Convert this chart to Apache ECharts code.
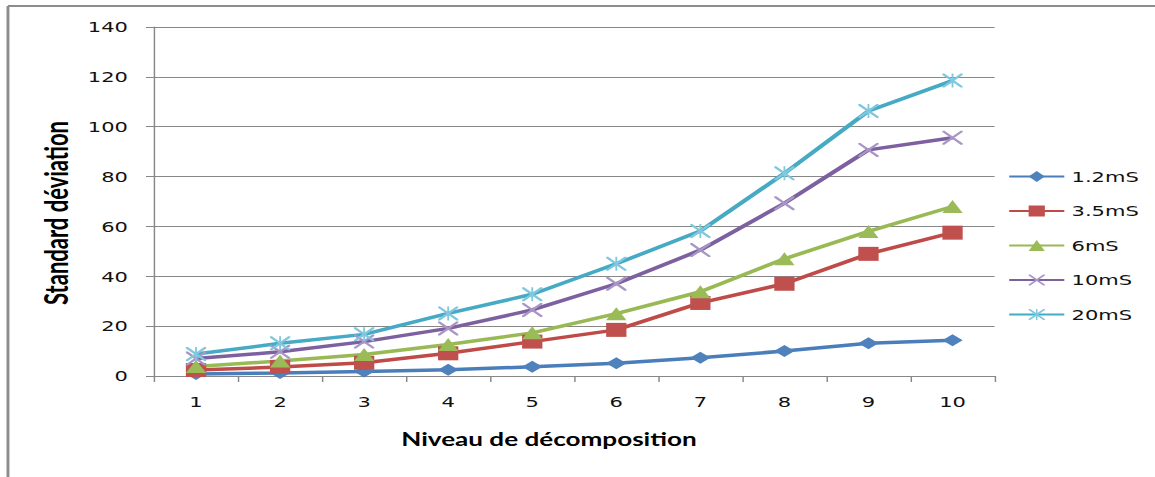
<!DOCTYPE html>
<html>
<head>
<meta charset="utf-8">
<script src="https://cdn.jsdelivr.net/npm/echarts@6/dist/echarts.min.js"></script>
<style>
html,body{margin:0;padding:0;background:#fff;overflow:hidden;}
#c{width:796.55px;height:477px;transform:scaleX(1.45);transform-origin:0 0;}
</style>
</head>
<body>
<div id="c"></div>
<script>
const categories = ['1','2','3','4','5','6','7','8','9','10'];
const seriesNames = ['1.2mS','3.5mS','6mS','10mS','20mS'];
const s12 = [0.8, 1.2, 1.8, 2.5, 3.7, 5.1, 7.3, 10.0, 13.1, 14.3];
const s35 = [2.4, 3.6, 5.3, 9.1, 13.8, 18.5, 29.3, 37.0, 49.0, 57.5];
const s6  = [3.8, 6.0, 8.6, 12.6, 17.3, 25.0, 33.8, 47.0, 58.0, 68.0];
const s10 = [7.0, 9.7, 13.8, 19.1, 26.5, 37.0, 50.5, 69.3, 90.7, 95.6];
const s20 = [8.8, 13.1, 16.7, 25.1, 32.8, 45.0, 58.2, 81.3, 106.3, 118.5];
const yTicks = { min: 0, max: 140, interval: 20 };
const xTitle = 'Niveau de décomposition';
const yTitle = 'Standard déviation';

const X_PATH = 'path://M0,0 L2,0 L20,18 L20,20 L18,20 L0,2 Z M18,0 L20,0 L20,2 L2,20 L0,20 L0,18 Z';
const STAR_PATH = 'path://M0,0 L2,0 L20,18 L20,20 L18,20 L0,2 Z M18,0 L20,0 L20,2 L2,20 L0,20 L0,18 Z M9.1,0 L10.9,0 L10.9,20 L9.1,20 Z';

const chart = echarts.init(document.getElementById('c'), null, { renderer: 'svg' });

function mk(name, data, lineColor, markColor, symbol, size) {
  return {
    name: name, type: 'line', data: data,
    symbol: symbol, symbolSize: size,
    showAllSymbol: true,
    lineStyle: { color: lineColor, width: 3.5 },
    itemStyle: { color: markColor, borderWidth: 0 },
    emphasis: { disabled: true },
    z: 3
  };
}

chart.setOption({
  animation: false,
  backgroundColor: '#ffffff',
  grid: { left: 106.2, right: 111.1, top: 27, bottom: 101, containLabel: false },
  xAxis: {
    type: 'category', data: categories, boundaryGap: true,
    axisLine: { lineStyle: { color: '#878787', width: 1 } },
    axisTick: { show: true, length: 6, inside: false, lineStyle: { color: '#878787' } },
    axisLabel: { color: '#111', fontFamily: 'DejaVu Sans', fontSize: 14.5, margin: 18 },
    splitLine: { show: false }
  },
  yAxis: {
    type: 'value', min: yTicks.min, max: yTicks.max, interval: yTicks.interval,
    axisLine: { show: true, lineStyle: { color: '#878787', width: 1 } },
    axisTick: { show: true, length: 5.5, lineStyle: { color: '#878787' } },
    axisLabel: { color: '#111', fontFamily: 'DejaVu Sans', fontSize: 14.5, margin: 18 },
    splitLine: { show: true, lineStyle: { color: '#878787', width: 1.2 } }
  },
  legend: {
    orient: 'vertical', left: 695, top: 169, padding: 0,
    itemWidth: 38, itemHeight: 14, itemGap: 19.5,
    textStyle: { color: '#111', fontFamily: 'DejaVu Sans', fontSize: 14.5 },
    data: seriesNames
  },
  graphic: [
    { type: 'line', shape: { x1: 5.5, y1: 6, x2: 800, y2: 6 }, style: { stroke: '#8c8c8c', lineWidth: 2 }, silent: true },
    { type: 'line', shape: { x1: 5.5, y1: 6, x2: 5.5, y2: 480 }, style: { stroke: '#8c8c8c', lineWidth: 2 }, silent: true },
    { type: 'text', x: 378.6, y: 439, style: { text: xTitle, fill: '#000', font: 'bold 18px Lato', textAlign: 'center', textVerticalAlign: 'middle' } },
    { type: 'text', x: 38.6, y: 213, rotation: Math.PI / 2, style: { text: yTitle, fill: '#000', font: 'bold 22px Lato', textAlign: 'center', textVerticalAlign: 'middle' } }
  ],
  series: [
    mk(seriesNames[0], s12, '#4A7EBB', '#4F81BD', 'diamond', [14, 12]),
    mk(seriesNames[1], s35, '#BE4B48', '#C0504D', 'rect', [14, 14]),
    mk(seriesNames[2], s6,  '#98B954', '#9BBB59', 'triangle', [14, 13]),
    mk(seriesNames[3], s10, '#7D60A0', '#A995C6', X_PATH, [14, 14]),
    mk(seriesNames[4], s20, '#46AAC5', '#7FC8DD', STAR_PATH, [14, 14])
  ]
});
</script>
</body>
</html>
